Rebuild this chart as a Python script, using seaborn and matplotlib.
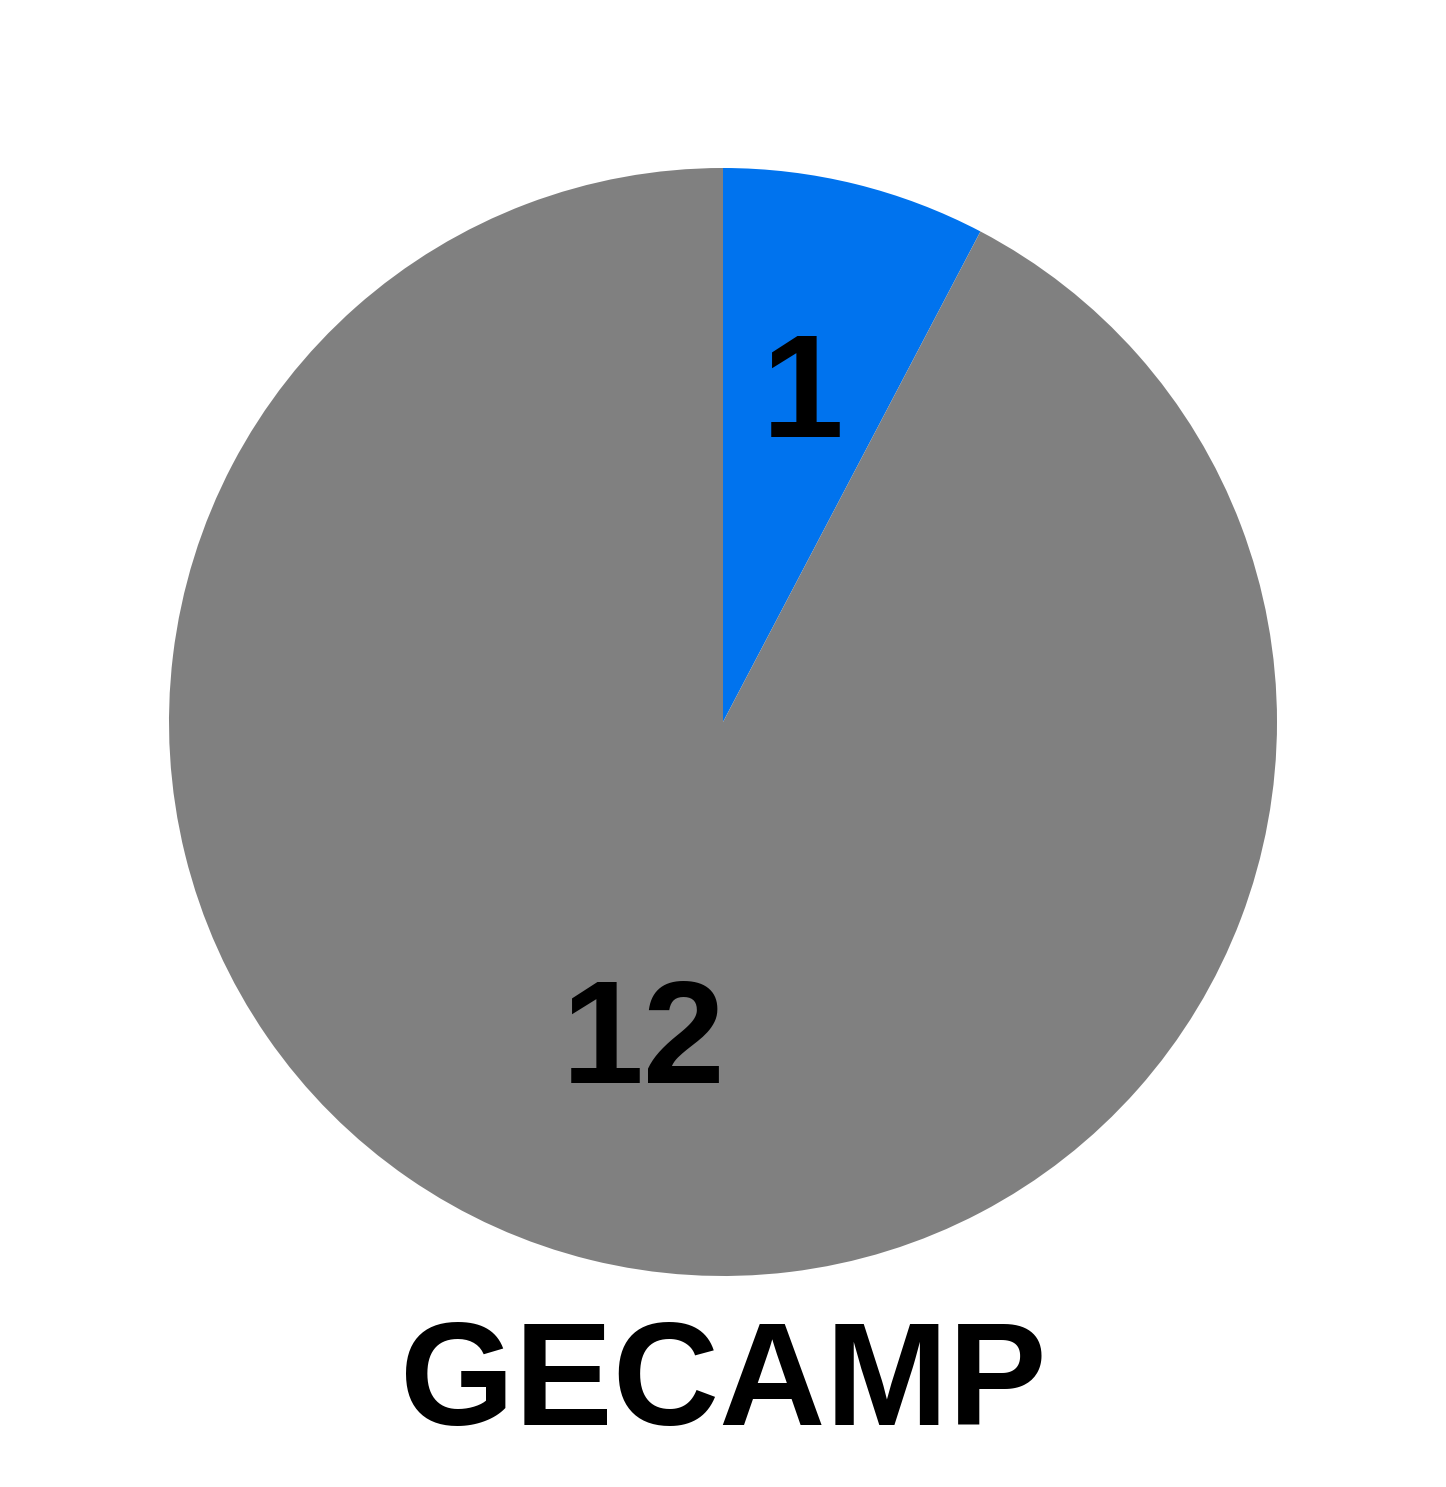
import matplotlib
matplotlib.use("Agg")
import matplotlib.pyplot as plt
import seaborn as sns

sns.set_style("white")
plt.rcParams['font.family'] = ['Liberation Sans', 'DejaVu Sans']

categories = ["Yes", "No"]
values = [1, 12]
colors = ["#0073EE", "#808080"]
title = "GECAMP"

W, H = 1446, 1487
fig = plt.figure(figsize=(W / 100, H / 100), dpi=100)
cx, cy, r = 723, 722, 554
ax = fig.add_axes([(cx - r) / W, (H - cy - r) / H, 2 * r / W, 2 * r / H])

total = sum(values)
wedges, texts, autotexts = ax.pie(
    values, colors=colors, startangle=90, counterclock=False,
    radius=1, pctdistance=0.6,
    autopct=lambda p: f"{round(p * total / 100)}",
    textprops=dict(fontsize=106, fontweight="bold", color="black"),
    wedgeprops=dict(linewidth=0),
)
ax.set_xlim(-1, 1)
ax.set_ylim(-1, 1)
ax.set_aspect("auto")
ax.axis("off")

fig.text(0.5, 1 - 1425 / H, title, ha="center", va="baseline",
         fontsize=106, fontweight="bold", color="black")

fig.savefig("out.png", dpi=100, facecolor="white")
